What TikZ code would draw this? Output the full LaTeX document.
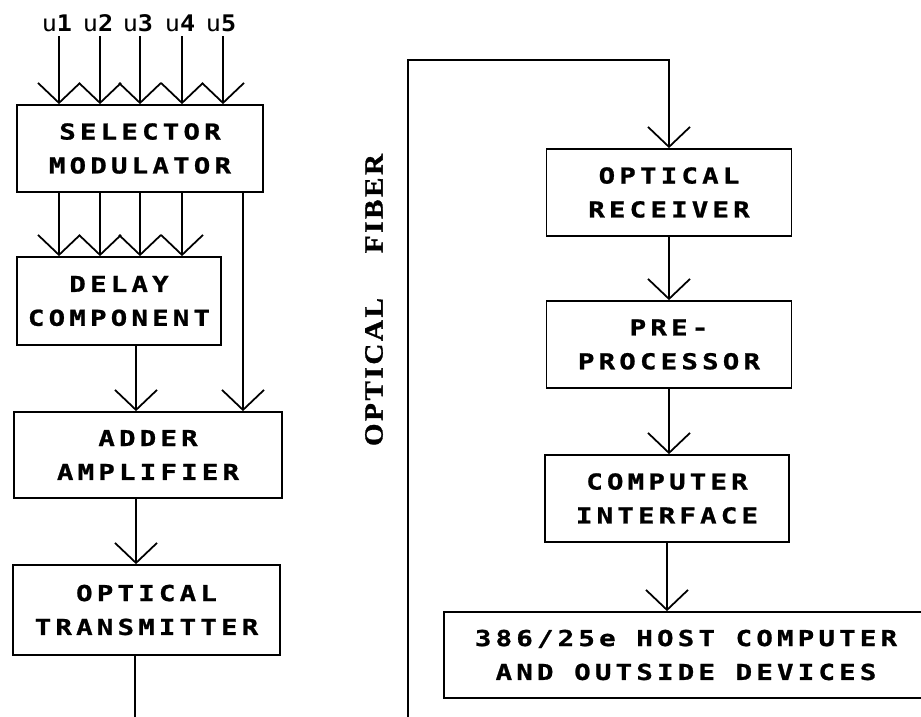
\documentclass[tikz,border=0pt]{standalone}
\usepackage{fontspec}
\usetikzlibrary{arrows.meta}
\newfontfamily\boxfont{DejaVu Sans Mono}[LetterSpace=19,FakeStretch=1.25,FakeBold=1]
\newfontfamily\lblfont{DejaVu Sans Mono}[LetterSpace=40,FakeStretch=1.1]
\newfontfamily\fiberfont{Liberation Serif}[LetterSpace=10,FakeStretch=1.1,FakeBold=1.2]
\tikzset{
  blk/.style={draw, line width=1pt, inner sep=0pt, align=center,
    minimum height=1.74cm, font=\boxfont\bfseries\fontsize{12.5pt}{19.3pt}\selectfont},
  lbl/.style={inner sep=0pt, font=\lblfont\fontsize{13pt}{14pt}\selectfont}
}

\begin{document}
\begin{tikzpicture}[x=0.02cm, y=-0.02cm, line width=1pt,
    >={Straight Barb[length=0.4cm,width=0.84cm]}]
        \useasboundingbox (0,0) rectangle (921,717);
        % transmitting side
        \node[blk, minimum width=4.92cm] (sel) at (140,148.5) {SELECTOR\\MODULATOR};
        \node[blk, minimum width=4.08cm, minimum height=1.76cm] (delay) at (119,301) {DELAY\\COMPONENT};
        \node[blk, minimum width=5.36cm, minimum height=1.72cm] (adder) at (148,455) {ADDER\\AMPLIFIER};
        \node[blk, minimum width=5.34cm, minimum height=1.80cm] (trans) at (146.5,610) {OPTICAL\\TRANSMITTER};
        % receiving side
        \node[blk, minimum width=4.90cm] (recv) at (669,192.5) {OPTICAL\\RECEIVER};
        \node[blk, minimum width=4.90cm] (pre) at (669,344.5) {PRE-\\PROCESSOR};
        \node[blk, minimum width=4.88cm] (iface) at (667,498.5) {COMPUTER\\INTERFACE};
        \node[blk, minimum width=9.68cm, minimum height=1.72cm] (host) at (686,655) {386/25e HOST COMPUTER\\AND OUTSIDE DEVICES};
        \node[rotate=90, inner sep=0pt, font=\fiberfont\bfseries\fontsize{15pt}{16pt}\selectfont] (fib) at (374,300) {OPTICAL\hspace{0.9cm}FIBER};

        \foreach \x [count=\i] in {59,100,140,182,223} {
            \coordinate (t\i) at (\x,36);
            \node[lbl, anchor=south] (u\i) at (\x-2,33) {u{\bfseries\i}};
            \draw[->] (t\i) -- (t\i |- sel.north);
        }
        \foreach \i in {1,...,4} \draw[->] (t\i |- sel.south) -- (t\i |- delay.north);
        \coordinate (s5) at (243,0);
        \draw[->] (sel.south -| s5) -- (adder.north -| s5);
        \coordinate (lc) at (136,0);
        \draw[->] (delay.south -| lc) -- (adder.north -| lc);
        \draw[->] (adder.south -| lc) -- (trans.north -| lc);
        \coordinate (txend) at (135,717);
        \draw (trans.south -| txend) -- (txend);
        % fiber link up and over to the receiver
        \coordinate (fbot) at (408,717);
        \coordinate (ftop) at (408,60);
        \draw[->] (fbot) -- (ftop) -| (recv.north);
        \draw[->] (recv) -- (pre);
        \draw[->] (pre.south) -- (pre.south |- iface.north);
        \draw[->] (iface.south) -- (iface.south |- host.north);
\end{tikzpicture}
\end{document}
